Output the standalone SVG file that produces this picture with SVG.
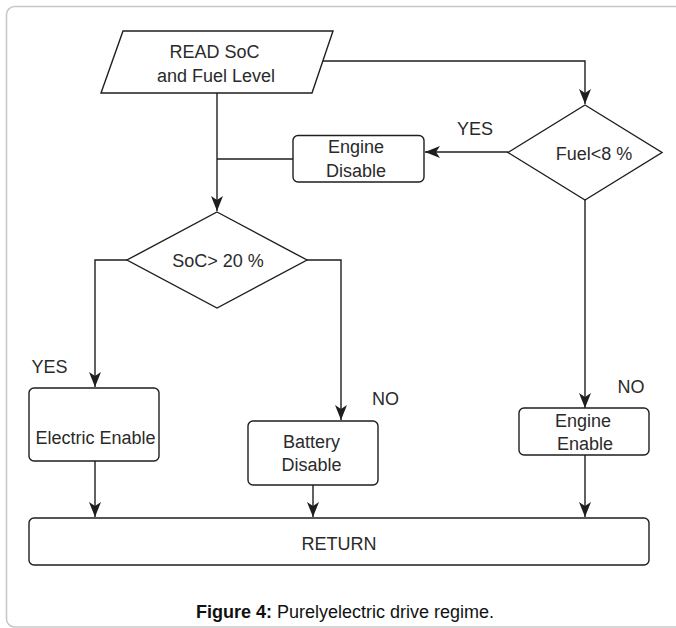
<svg xmlns="http://www.w3.org/2000/svg" width="676" height="628" viewBox="0 0 676 628">
<style>
.frame{fill:#fff;stroke:#c8c8c8;stroke-width:1.6}
.shape{fill:#fff;stroke:#1e1e1e;stroke-width:1.4}
.conn{fill:none;stroke:#1e1e1e;stroke-width:1.4}
text{font-family:"Liberation Sans",Arial,sans-serif;font-size:18px;fill:#2a2a2a}
.c{text-anchor:middle}
.cap{fill:#111}
</style>
<defs>
<marker id="arr" viewBox="-16 -7 18 14" markerWidth="18" markerHeight="14" refX="0" refY="0" orient="auto" markerUnits="userSpaceOnUse">
<path d="M0,0 L-15,-6 L-11,0 L-15,6 Z" fill="#1e1e1e"/>
</marker>
</defs>
<rect class="frame" x="6.5" y="6.5" width="700" height="620.5" rx="8"/>
<g id="connectors">
<polyline class="conn" points="322,61 585,61 585,104" marker-end="url(#arr)"/>
<line class="conn" x1="217" y1="93" x2="217" y2="211" marker-end="url(#arr)"/>
<line class="conn" x1="508" y1="152" x2="425" y2="152" marker-end="url(#arr)"/>
<line class="conn" x1="293" y1="159" x2="217" y2="159"/>
<polyline class="conn" points="127,260 95,260 95,387" marker-end="url(#arr)"/>
<polyline class="conn" points="307,260 341,260 341,420" marker-end="url(#arr)"/>
<line class="conn" x1="585" y1="200" x2="585" y2="408" marker-end="url(#arr)"/>
<line class="conn" x1="95" y1="461" x2="95" y2="517" marker-end="url(#arr)"/>
<line class="conn" x1="313" y1="485" x2="313" y2="517" marker-end="url(#arr)"/>
<line class="conn" x1="585" y1="455" x2="585" y2="517" marker-end="url(#arr)"/>
</g>
<g id="read">
<polygon class="shape" points="123,31 333,31 312,93 101,93"/>
<text class="c" x="214.5" y="58">READ SoC</text>
<text class="c" x="216" y="82">and Fuel Level</text>
</g>
<g id="fuel">
<polygon class="shape" points="585,105 662,152.5 585,200 508,152.5"/>
<text class="c" x="594" y="160">Fuel&lt;8 %</text>
</g>
<g id="label-yes-fuel"><text class="c" x="475" y="135">YES</text></g>
<g id="engine-disable">
<rect class="shape" x="293" y="135.5" width="131" height="46.5" rx="5"/>
<text class="c" x="356" y="153">Engine</text>
<text class="c" x="356" y="177">Disable</text>
</g>
<g id="soc">
<polygon class="shape" points="217,212 307,260 217,308 127,260"/>
<text class="c" x="218" y="267">SoC&gt; 20 %</text>
</g>
<g id="label-yes-soc"><text class="c" x="49.5" y="373">YES</text></g>
<g id="label-no-soc"><text class="c" x="385.5" y="405">NO</text></g>
<g id="label-no-fuel"><text class="c" x="631" y="393">NO</text></g>
<g id="electric-enable">
<rect class="shape" x="29" y="388" width="130" height="73" rx="5"/>
<text class="c" x="95.5" y="444">Electric Enable</text>
</g>
<g id="battery-disable">
<rect class="shape" x="248" y="421" width="130" height="64" rx="5"/>
<text class="c" x="311.5" y="448">Battery</text>
<text class="c" x="311.5" y="471">Disable</text>
</g>
<g id="engine-enable">
<rect class="shape" x="519" y="408" width="130" height="47" rx="5"/>
<text class="c" x="583" y="427">Engine</text>
<text class="c" x="585" y="450">Enable</text>
</g>
<g id="return">
<rect class="shape" x="29" y="518" width="620" height="47" rx="5"/>
<text class="c" x="339" y="550">RETURN</text>
</g>
<g id="caption">
<text class="c cap" x="345" y="618"><tspan font-weight="bold">Figure 4:</tspan> Purelyelectric drive regime.</text>
</g>
</svg>
